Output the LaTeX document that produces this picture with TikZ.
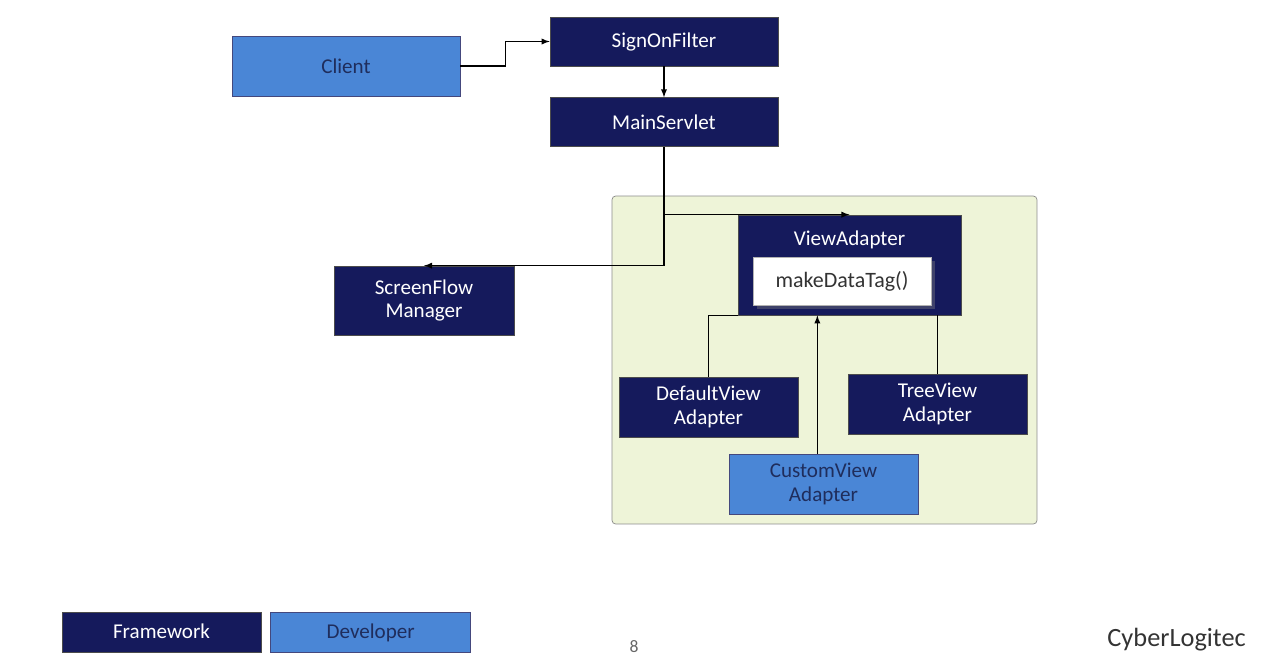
\documentclass[tikz,border=0pt]{standalone}
\usepackage{fontspec}
\setmainfont{Carlito}
\usepackage{tikz}
\usetikzlibrary{arrows, positioning, shadows}
\definecolor{fwnavy}{HTML}{151A5C}
\definecolor{devblue}{HTML}{4A86D6}
\definecolor{devtext}{HTML}{1F2D5C}
\definecolor{zonegreen}{HTML}{EEF4D8}
\tikzstyle{framework}=[rectangle, draw=black!70, fill=fwnavy, text=white, align=center, font=\fontsize{12}{13.5}\selectfont]
\tikzstyle{developer}=[rectangle, draw=fwnavy!80, fill=devblue, text=devtext, align=center, font=\fontsize{12}{13.5}\selectfont]
\tikzstyle{method}=[rectangle, draw=black!30, fill=white, text=black!80, font=\fontsize{12.5}{15}\selectfont, drop shadow={opacity=0.4}]
\tikzstyle{zone}=[rectangle, rounded corners=2pt, draw=black!45, fill=zonegreen]
\tikzstyle{arrow}=[semithick, ->, >=latex]
\tikzstyle{link}=[semithick]

\begin{document}
\begin{tikzpicture}[x=0.02cm, y=-0.02cm]
		\useasboundingbox (0,0) rectangle (1272,667);
		\node(zone)[zone, minimum width=8.5cm, minimum height=6.56cm] at (824.5,360){};
		
		\node(client)[developer, minimum width=4.56cm, minimum height=1.2cm] at (346,66){Client};
		\node(signon)[framework, minimum width=4.56cm, minimum height=0.98cm] at (664,41.5){SignOnFilter};
		\node(mainservlet)[framework, minimum width=4.56cm, minimum height=0.98cm, below=0.62cm of signon]{MainServlet};
		\node(screenflow)[framework, minimum width=3.6cm, minimum height=1.38cm] at (424,300.5){ScreenFlow\\Manager};
		
		\node(viewadapter)[framework, minimum width=4.46cm, minimum height=2cm, label={[white, font=\fontsize{12}{15}\selectfont, below=0.2cm]north:ViewAdapter}] at (849.5,265){};
		\node(makedatatag)[method, minimum width=3.56cm, minimum height=0.96cm] at (842,281){makeDataTag()};
		
		\node(defaultview)[framework, minimum width=3.58cm, minimum height=1.2cm] at (708.5,407){DefaultView\\Adapter};
		\node(treeview)[framework, minimum width=3.58cm, minimum height=1.2cm] at (937.5,404){TreeView\\Adapter};
		\node(customview)[developer, minimum width=3.78cm, minimum height=1.2cm] at (823.5,484){CustomView\\Adapter};
		
		\draw[arrow](client.east) -- ++(45,0) |- (signon.west);
		\draw[arrow](signon)--(mainservlet);
		\draw[arrow](mainservlet.south) |- (viewadapter.north);
		\draw[arrow](mainservlet.south) |- (screenflow.north);
		\draw[link](defaultview.north) |- (viewadapter.south west);
		\draw[link](treeview.north) -- (treeview.north |- viewadapter.south);
		\draw[arrow]([xshift=-3.5]customview.north) -- ([xshift=-3.5]customview.north |- viewadapter.south);
		
		\node(framework)[framework, minimum width=3.98cm, minimum height=0.8cm, text depth=0.3ex] at (161.5,632){Framework};
		\node(developer)[developer, minimum width=4cm, minimum height=0.8cm, text depth=0.3ex, right=0.18cm of framework]{Developer};
		\node(pagenum)[text=black!60, font=\fontsize{10}{12}\selectfont] at (634,647){8};
		\node(brand)[text=black!80, font=\fontsize{15}{18}\selectfont, anchor=east] at (1252,640){CyberLogitec};
	\end{tikzpicture}
\end{document}
